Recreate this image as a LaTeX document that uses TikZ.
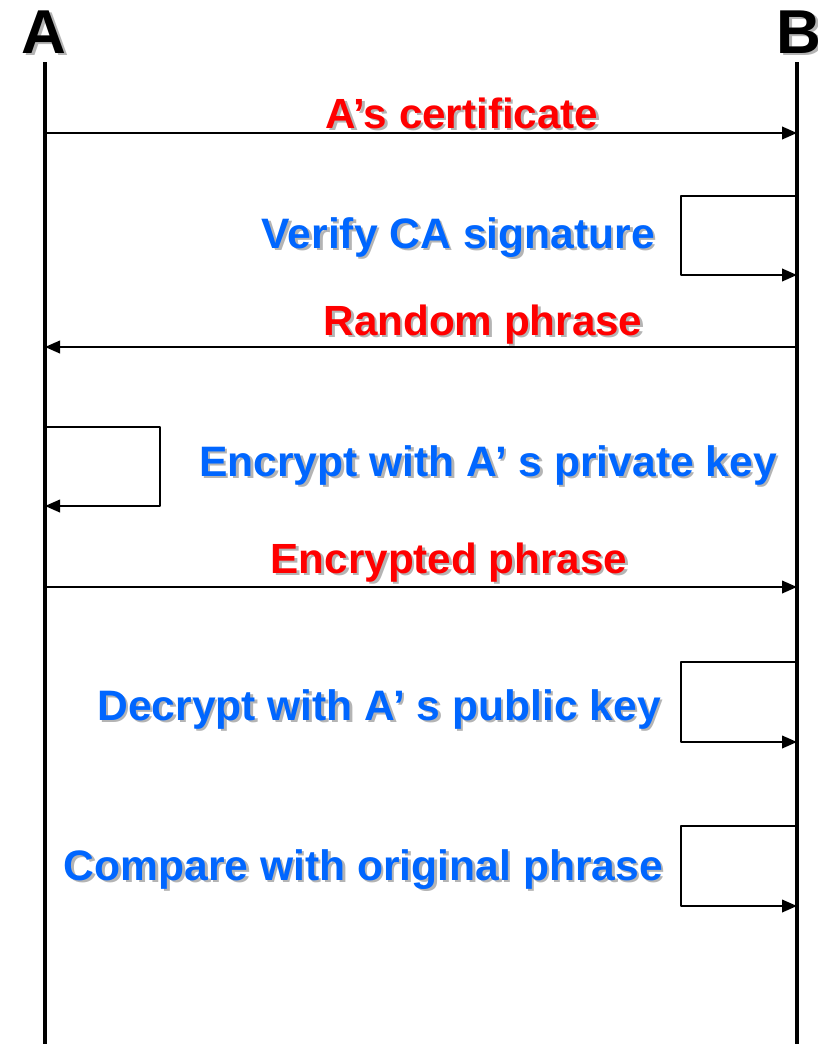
\documentclass[tikz,border=0pt]{standalone}
\usepackage{fontspec}
\setmainfont{Liberation Sans}
\usetikzlibrary{arrows.meta}
\definecolor{msgred}{RGB}{255,0,0}
\definecolor{msgblue}{RGB}{0,102,255}
\definecolor{shadowgray}{RGB}{180,180,180}
\newcommand\shd[1]{\leavevmode\rlap{\kern2.5pt\raisebox{-2.5pt}{\textcolor{shadowgray}{#1}}}#1}
\tikzset{
  lifeline/.style={line width=4.2pt},
  msgline/.style={line width=2.3pt, line join=round, -{Triangle[length=15pt,width=12.5pt]}},
  title/.style={font=\fontsize{62}{70}\selectfont\bfseries, inner sep=0pt, text=black},
  redlbl/.style={font=\fontsize{42.2}{50}\selectfont\bfseries, inner sep=0pt, text=msgred},
  bluelbl/.style={font=\fontsize{42.6}{50}\selectfont\bfseries, inner sep=0pt, text=msgblue},
}
\begin{document}
\begin{tikzpicture}[x=1pt,y=-1pt]
\useasboundingbox (0,0) rectangle (818,1044);
% titles
\node[title, anchor=base] (tA) at (44,53) {\shd{A}};
\node[title, anchor=base] (tB) at (799,53) {\shd{B}};
% lifelines
\coordinate (Atop) at (45,62);
\coordinate (Abot) at (45,1046);
\coordinate (Btop) at (797,62);
\coordinate (Bbot) at (797,1046);
\draw[lifeline] (Atop) -- (Abot);
\draw[lifeline] (Btop) -- (Bbot);
% message 1
\coordinate (m1a) at (45,133);
\coordinate (m1b) at (797,133);
\draw[msgline] (m1a) -- (m1b);
\node[redlbl, anchor=base] (l1) at (462,128) {\shd{A’s certificate}};
% self loop 2 at B
\coordinate (s2a) at (797,196);
\coordinate (s2b) at (797,275);
\draw[msgline] (s2a) -- (681,196) -- (681,275) -- (s2b);
\node[bluelbl, anchor=base east] (l2) at (655,248) {\shd{Verify CA signature}};
% message 3
\coordinate (m3b) at (797,347);
\coordinate (m3a) at (45,347);
\draw[msgline] (m3b) -- (m3a);
\node[redlbl, anchor=base] (l3) at (483,335) {\shd{Random phrase}};
% self loop 4 at A
\coordinate (s4a) at (45,427);
\coordinate (s4b) at (45,506);
\draw[msgline] (s4a) -- (160,427) -- (160,506) -- (s4b);
\node[bluelbl, anchor=base west] (l4) at (199,476) {\shd{Encrypt with A’ s private key}};
% message 5
\coordinate (m5a) at (45,587);
\coordinate (m5b) at (797,587);
\draw[msgline] (m5a) -- (m5b);
\node[redlbl, anchor=base] (l5) at (449,573) {\shd{Encrypted phrase}};
% self loop 6 at B
\coordinate (s6a) at (797,662);
\coordinate (s6b) at (797,742);
\draw[msgline] (s6a) -- (681,662) -- (681,742) -- (s6b);
\node[bluelbl, anchor=base east] (l6) at (661,720) {\shd{Decrypt with A’ s public key}};
% self loop 7 at B
\coordinate (s7a) at (797,826);
\coordinate (s7b) at (797,906);
\draw[msgline] (s7a) -- (681,826) -- (681,906) -- (s7b);
\node[bluelbl, anchor=base east] (l7) at (663,880) {\shd{Compare with original phrase}};
\end{tikzpicture}
\end{document}
